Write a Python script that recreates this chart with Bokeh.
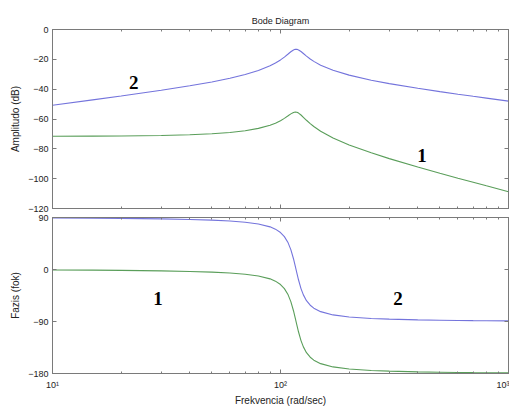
from bokeh.plotting import figure
from bokeh.models import LogAxis, LinearAxis, FixedTicker, Label, Range1d
from bokeh.layouts import column
from bokeh.embed import file_html
from bokeh.resources import INLINE

# ---- data (frequency in rad/sec) ----
freq = [10, 15, 20, 30, 40, 50, 60, 70, 80, 90, 95, 100, 104, 108, 111, 114,
        116, 118, 120, 123, 126, 130, 135, 140, 150, 170, 200, 250, 300, 400,
        500, 600, 700, 800, 1000]
# curve 1 (green) amplitude, dB
mag1 = [-71.54, -71.46, -71.35, -71.02, -70.54, -69.88, -69.00, -67.84, -66.29,
        -64.17, -62.80, -61.14, -59.58, -57.84, -56.56, -55.59, -55.33, -55.48,
        -56.02, -57.31, -58.85, -60.86, -63.10, -65.03, -68.16, -72.69, -77.36,
        -82.68, -86.55, -92.19, -96.35, -99.67, -102.43, -104.81, -108.75]
# curve 2 (blue) amplitude, dB
mag2 = [-50.80, -47.20, -44.59, -40.74, -37.76, -35.16, -32.70, -30.20, -27.49,
        -24.35, -22.51, -20.40, -18.50, -16.44, -14.92, -13.72, -13.30, -13.31,
        -13.70, -14.78, -16.11, -17.84, -19.76, -21.37, -23.90, -27.34, -30.60,
        -33.98, -36.27, -39.41, -41.63, -43.37, -44.79, -46.01, -48.01]
# curve 1 (green) phase, deg
phase1 = [-0.76, -1.15, -1.55, -2.42, -3.41, -4.60, -6.12, -8.17, -11.19, -16.18,
          -20.15, -26.03, -33.11, -43.86, -55.63, -71.36, -83.64, -96.31, -108.20,
          -123.02, -133.93, -143.89, -151.80, -156.89, -162.95, -168.61, -172.20,
          -174.73, -175.95, -177.18, -177.82, -178.21, -178.48, -178.68, -178.95]
# curve 2 (blue) phase, deg
phase2 = [89.24, 88.85, 88.45, 87.58, 86.59, 85.40, 83.88, 81.83, 78.81, 73.82,
          69.85, 63.97, 56.89, 46.14, 34.37, 18.64, 6.36, -6.31, -18.20, -33.02,
          -43.93, -53.89, -61.80, -66.89, -72.95, -78.61, -82.20, -84.73, -85.95,
          -87.18, -87.82, -88.21, -88.48, -88.68, -88.95]

x_major = [10, 100, 1000]
x_minor = [20, 30, 40, 50, 60, 70, 80, 90, 200, 300, 400, 500, 600, 700, 800, 900]
x_labels = {10: "10\u00b9", 100: "10\u00b2", 1000: "10\u00b3"}
mag_ticks = [-120, -100, -80, -60, -40, -20, 0]
phase_ticks = [-180, -90, 0, 90]

FRAME = "#7a7a7a"
TXT = "#222222"
BLUE = "#7474dc"
GREEN = "#5a9e5a"
SANS = "Liberation Sans"


def style(ax, labels=True):
    ax.axis_line_color = FRAME
    ax.major_tick_in = 4
    ax.major_tick_out = 0
    ax.minor_tick_in = 2
    ax.minor_tick_out = 0
    ax.major_tick_line_color = FRAME
    ax.minor_tick_line_color = FRAME
    ax.major_label_text_font = SANS
    ax.major_label_text_color = TXT
    ax.major_label_text_font_size = "9px"
    ax.axis_label_text_font = SANS
    ax.axis_label_text_font_size = "10px"
    ax.axis_label_text_font_style = "normal"
    ax.axis_label_text_color = TXT
    if not labels:
        ax.major_label_text_font_size = "1px"
        ax.major_label_text_alpha = 0
        ax.major_label_standoff = 0


def make_fig(height, yr, yticks, top, bottom, xlabels):
    p = figure(width=509, height=height, x_axis_type="log",
               x_range=Range1d(10, 1000), y_range=Range1d(*yr),
               output_backend="svg", toolbar_location=None,
               min_border_left=52, min_border_right=1,
               min_border_top=top, min_border_bottom=bottom)
    p.grid.visible = False
    p.outline_line_color = FRAME
    p.background_fill_color = "white"
    p.border_fill_color = "white"
    xb = p.below[0]
    yl = p.left[0]
    xb.ticker = FixedTicker(ticks=x_major, minor_ticks=x_minor)
    yl.ticker = FixedTicker(ticks=yticks)
    style(xb, labels=xlabels)
    style(yl)
    yl.major_label_standoff = 4
    yl.axis_label_standoff = 4
    top_ax = LogAxis(ticker=FixedTicker(ticks=x_major, minor_ticks=x_minor))
    style(top_ax, labels=False)
    p.add_layout(top_ax, "above")
    right_ax = LinearAxis(ticker=FixedTicker(ticks=yticks))
    style(right_ax, labels=False)
    p.add_layout(right_ax, "right")
    return p, xb, yl


def digit(p, x, y, t):
    p.add_layout(Label(x=x, y=y, text=t, text_align="center",
                       text_baseline="middle", text_font="Liberation Serif",
                       text_font_style="bold", text_font_size="19px",
                       text_color="black"))


# ---- top panel: amplitude ----
p1, xb1, yl1 = make_fig(213, (-120, 0), mag_ticks, 29, 5, False)
yl1.axis_label = "Amplitudo (dB)"
p1.title.text = "Bode Diagram"
p1.title.align = "center"
p1.title.text_font = SANS
p1.title.text_font_size = "9px"
p1.title.text_font_style = "normal"
p1.title.text_color = TXT
p1.title.standoff = 8
p1.line(freq, mag2, line_color=BLUE, line_width=1.1)
p1.line(freq, mag1, line_color=GREEN, line_width=1.1)
digit(p1, 22.7, -35.7, "2")
digit(p1, 417, -84.4, "1")

# ---- bottom panel: phase ----
p2, xb2, yl2 = make_fig(195, (-180, 90), phase_ticks, 4, 32, True)
xb2.major_label_overrides = x_labels
xb2.major_label_standoff = 6
xb2.axis_label_standoff = 2
xb2.axis_label = "Frekvencia (rad/sec)"
yl2.axis_label = "Fazis (fok)"
p2.line(freq, phase2, line_color=BLUE, line_width=1.1)
p2.line(freq, phase1, line_color=GREEN, line_width=1.1)
digit(p2, 29.0, -49.7, "1")
digit(p2, 327.6, -49.7, "2")

layout = column(p1, p2, spacing=0)
open("out.html", "w").write(file_html(layout, INLINE))
